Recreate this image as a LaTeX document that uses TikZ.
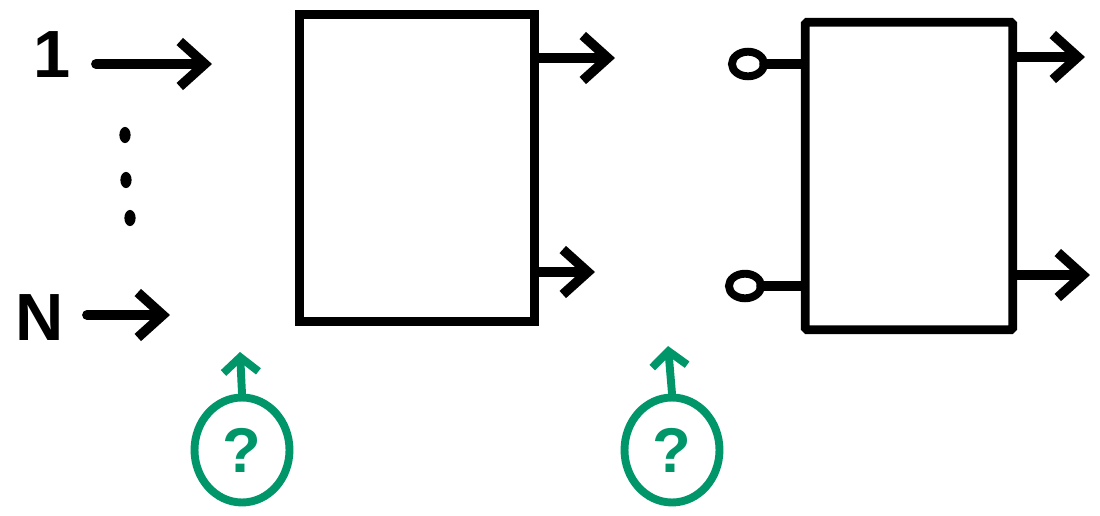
\documentclass[tikz,border=0pt]{standalone}
\usepackage{fontspec}
\setmainfont{Liberation Sans}
\usepackage{xcolor}
\usepackage{tikz}
\usetikzlibrary{positioning,arrows.meta,shapes.geometric}
\definecolor{sketchgreen}{RGB}{0,150,105}

\begin{document}
\begin{tikzpicture}[
x=0.02cm, y=-0.02cm,
box/.style={draw, line width=5pt, minimum width=4.7cm, minimum height=6.15cm, inner sep=0pt},
arrow/.style={-{Straight Barb[length=5mm,width=9mm]}, line width=5.5pt, line cap=round, line join=round},
plug/.style={{Circle[open,length=8mm,width=6.5mm,line width=4.5pt]}-, line width=5.5pt, line cap=round},
label/.style={font=\fontsize{38}{38}\selectfont\bfseries, inner sep=0pt},
qmark/.style={ellipse, draw=sketchgreen, text=sketchgreen, line width=4.5pt, minimum width=1.9cm, minimum height=2.1cm, inner sep=0pt, font=\fontsize{36}{36}\selectfont\bfseries},
garrow/.style={-{Straight Barb[length=3mm,width=7mm]}, sketchgreen, line width=4.5pt, line cap=round}
]
\useasboundingbox (0,0) rectangle (1100,515);

% inputs
\node[label] (one) at (52,55) {1};
\node[label] (enn) at (40,318) {N};
\coordinate (inOne) at (212,64);
\coordinate (inN) at (170,315);
\coordinate[right=0.5cm of one] (oneStart);
\coordinate[right=0.45cm of enn] (nStart);
\draw[arrow] (oneStart |- inOne) -- (inOne);
\draw[arrow] (nStart |- inN) -- (inN);
\foreach \py/\px in {135/125, 180/126, 218/130}
  \fill (\px,\py) ellipse (3.2pt and 4.6pt);

% first block
\node[box] (blockA) at (417,168) {};
\coordinate (outA1) at (615,58);
\coordinate (outA2) at (595,272);
\draw[arrow] (blockA.east |- outA1) -- (outA1);
\draw[arrow] (blockA.east |- outA2) -- (outA2);

% second block
\node[box, minimum width=4.15cm, rounded corners=1pt] (blockB) at (909,176) {};
\coordinate (inB1) at (728,64);
\coordinate (inB2) at (725,286);
\coordinate (outB1) at (1085,57);
\coordinate (outB2) at (1090,275);
\draw[plug] (inB1) -- (blockB.west |- inB1);
\draw[plug] (inB2) -- (blockB.west |- inB2);
\draw[arrow] (blockB.east |- outB1) -- (outB1);
\draw[arrow] (blockB.east |- outB2) -- (outB2);

% unknowns
\node[qmark] (qA) at (242,450) {?};
\node[qmark] (qB) at (672,450) {?};
\coordinate (upA) at (240,352);
\coordinate (upB) at (668,346);
\draw[garrow] (qA.north) -- (upA);
\draw[garrow] (qB.north) -- (upB);
\end{tikzpicture}
\end{document}
